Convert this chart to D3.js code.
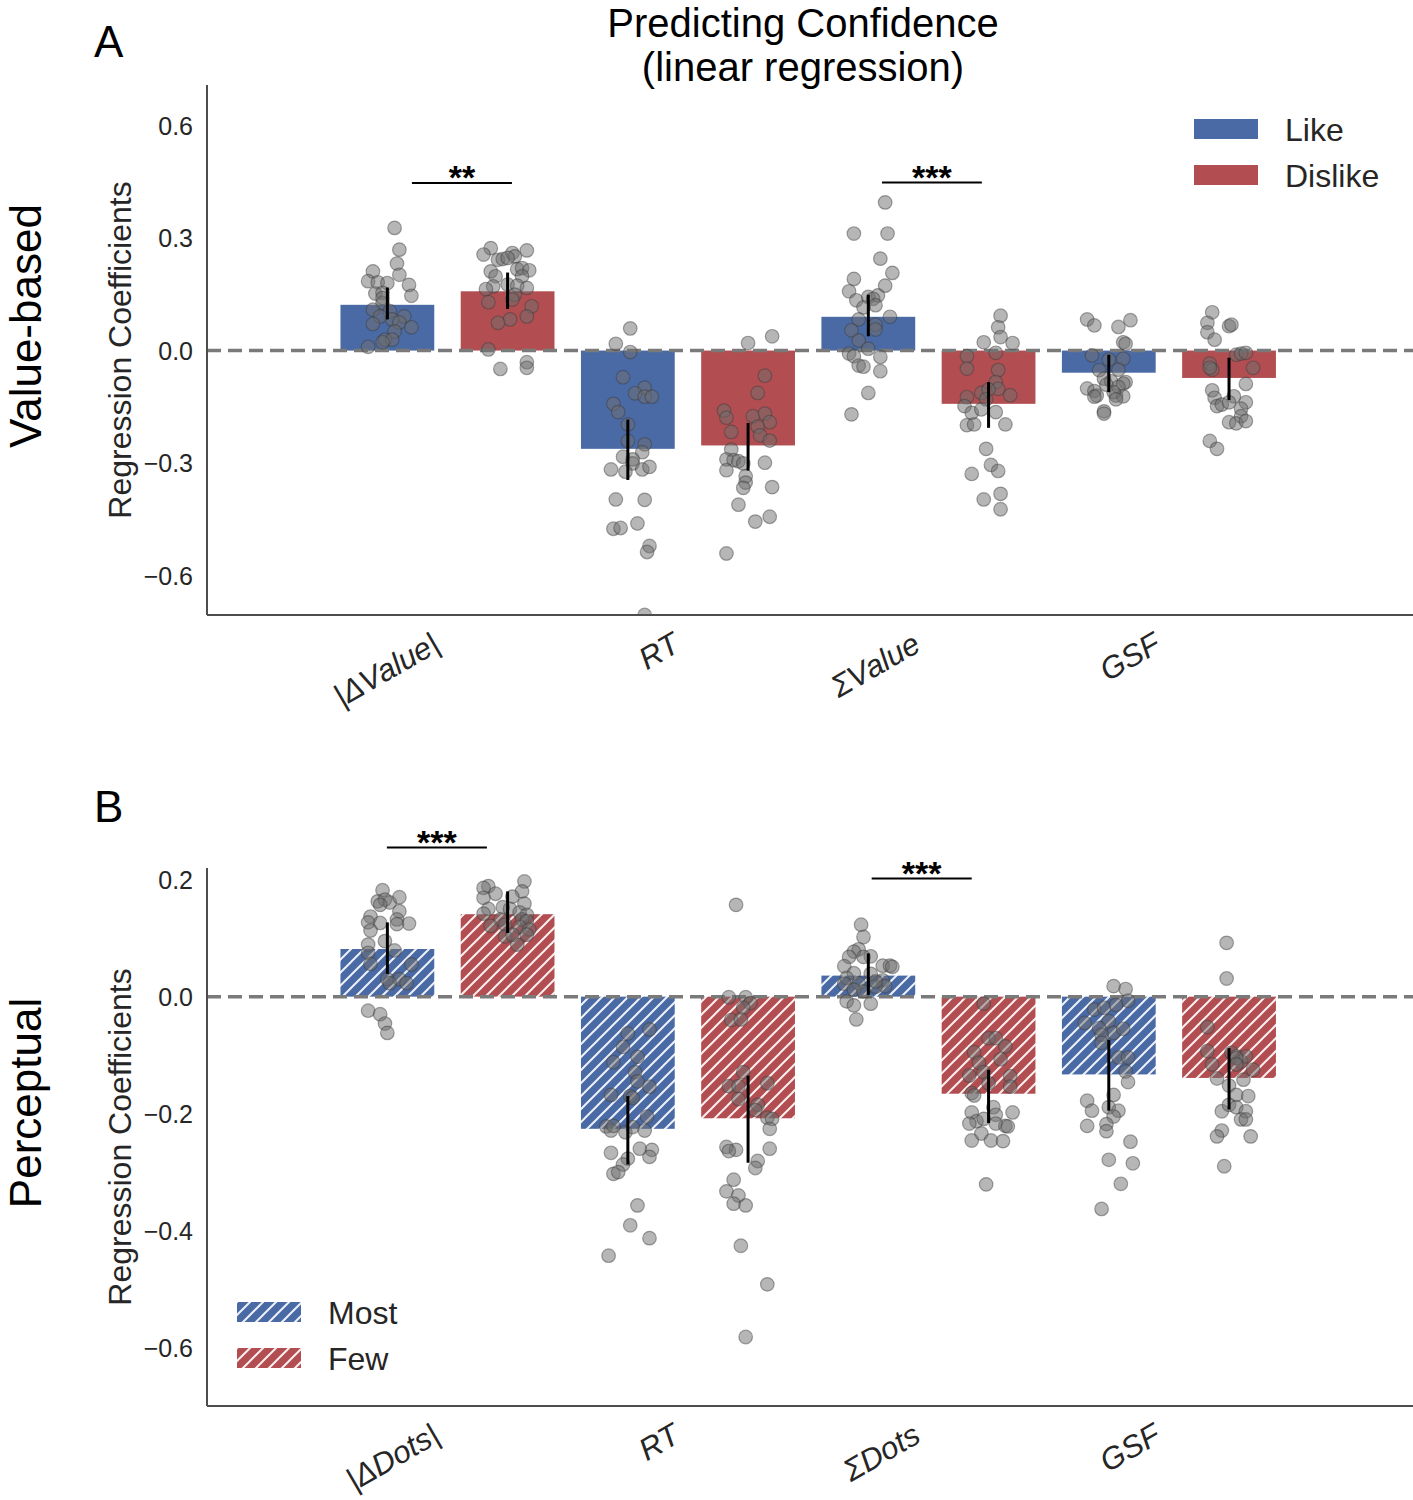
<!DOCTYPE html>
<html>
<head>
<meta charset="utf-8">
<script src="https://cdn.jsdelivr.net/npm/d3@7"></script>
<style>
  body { margin: 0; background: #fff; }
  text { font-family: "Liberation Sans", Arial, sans-serif; }
</style>
</head>
<body>
<script>
// ---------- data ----------
const categoriesA = ["|ΔValue|", "RT", "ΣValue", "GSF"];
const categoriesB = ["|ΔDots|", "RT", "ΣDots", "GSF"];
const seriesA = ["Like", "Dislike"];
const seriesB = ["Most", "Few"];
const yTicksA = [-0.6, -0.3, 0.0, 0.3, 0.6];
const yTicksB = [-0.6, -0.4, -0.2, 0.0, 0.2];

// bar means and error bar ends, one value per category
const likeMean = [0.122, -0.262, 0.090, -0.059];
const likeLo = [0.083, -0.345, 0.038, -0.111];
const likeHi = [0.168, -0.184, 0.149, -0.011];
const dislikeMean = [0.158, -0.253, -0.142, -0.073];
const dislikeLo = [0.111, -0.320, -0.206, -0.132];
const dislikeHi = [0.208, -0.193, -0.084, -0.019];

const mostMean = [0.0815, -0.226, 0.036, -0.133];
const mostLo = [0.039, -0.287, 0.003, -0.195];
const mostHi = [0.127, -0.170, 0.074, -0.074];
const fewMean = [0.141, -0.208, -0.166, -0.139];
const fewLo = [0.109, -0.284, -0.216, -0.193];
const fewHi = [0.180, -0.135, -0.125, -0.088];

// subject coefficients: [value, jitter in category units]
const likeDots = [
  [[.327,.03],[.269,.05],[.232,.04],[.211,-.06],[.202,.05],[.185,-.08],[.182,-.04],[.180,0],[.175,.09],[.152,-.05],[.154,-.02],[.146,.10],[.127,-.02],[.140,-.02],[.109,-.06],[.105,.01],[.091,-.03],[.091,.07],[.083,.02],[.075,.05],[.071,-.06],[.062,.10],[.051,.03],[.029,-.01],[.029,.02],[.022,-.02],[.010,-.08]],
  [[.059,.01],[.018,-.05],[-.004,.01],[-.071,-.02],[-.099,.07],[-.114,.03],[-.123,.07],[-.123,.10],[-.142,-.06],[-.164,-.04],[-.197,0],[-.241,0],[-.250,.07],[-.271,.06],[-.283,-.02],[-.290,.02],[-.301,.02],[-.317,-.07],[-.323,-.01],[-.317,.06],[-.310,.09],[-.397,-.05],[-.398,.07],[-.461,.04],[-.475,-.06],[-.473,-.03],[-.521,.09],[-.537,.08],[-.705,.07]],
  [[.395,.07],[.312,-.06],[.312,.08],[.245,.05],[.207,.10],[.191,-.06],[.173,.07],[.158,-.08],[.134,-.05],[.143,0],[.147,.04],[.138,.02],[.121,.03],[.115,-.02],[.090,.09],[.083,-.04],[.069,.03],[.054,-.07],[.056,.03],[.027,-.04],[.005,0],[-.008,-.08],[-.015,-.06],[-.017,.05],[-.040,-.04],[-.043,-.02],[-.055,.05],[-.113,0],[-.170,-.07]],
  [[.083,-.09],[.067,-.06],[.081,.09],[.063,.04],[.022,.06],[.018,.07],[-.013,-.07],[-.024,0],[-.022,.06],[-.052,-.04],[-.051,.04],[-.075,-.02],[-.082,.01],[-.084,.07],[-.088,.06],[-.091,-.01],[-.097,.04],[-.101,-.09],[-.108,-.06],[-.120,-.05],[-.120,.03],[-.122,.06],[-.111,.02],[-.123,-.06],[-.130,.03],[-.162,-.02],[-.168,-.02]]
];
const dislikeDots = [
  [[.273,-.07],[.256,-.10],[.242,-.04],[.244,-.02],[.260,.02],[.267,.08],[.251,.03],[.247,0],[.211,-.07],[.217,.04],[.220,.06],[.214,.09],[.198,-.05],[.198,.06],[.171,-.06],[.176,0],[.164,-.09],[.173,.04],[.167,.08],[.149,.03],[.136,.02],[.129,-.08],[.118,.10],[.091,.08],[.083,.01],[.074,-.04],[.003,-.08],[-.049,-.03],[-.031,.08],[-.046,.08]],
  [[.038,.10],[.020,0],[-.067,.07],[-.113,.04],[-.160,-.10],[-.179,-.09],[-.175,.02],[-.168,.07],[-.191,.09],[-.217,-.07],[-.203,.04],[-.226,.05],[-.240,.09],[-.264,-.07],[-.290,-.09],[-.292,-.06],[-.295,-.04],[-.301,-.02],[-.299,.07],[-.319,-.09],[-.335,-.01],[-.352,-.01],[-.366,-.02],[-.364,.10],[-.411,-.04],[-.456,.03],[-.443,.09],[-.541,-.09]],
  [[.093,.05],[.062,.04],[.036,.05],[.022,-.02],[.020,.10],[-.015,-.09],[-.006,.03],[-.048,-.09],[-.052,.04],[-.084,.03],[-.102,.04],[-.113,-.03],[-.104,0],[-.119,.09],[-.124,-.09],[-.130,-.01],[-.148,-.10],[-.166,-.07],[-.157,-.03],[-.164,.03],[-.199,-.09],[-.197,-.06],[-.197,.07],[-.262,-.01],[-.305,.01],[-.321,.04],[-.329,-.07],[-.397,-.02],[-.382,.05],[-.423,.05]],
  [[.102,-.07],[.074,-.09],[.049,-.09],[.029,-.06],[.065,0],[.069,.01],[-.011,.03],[-.008,.05],[-.006,.07],[-.035,-.08],[-.051,-.07],[-.046,-.08],[-.046,.10],[-.089,.07],[-.106,-.07],[-.126,-.06],[-.148,-.05],[-.144,-.03],[-.122,.02],[-.138,0],[-.138,.07],[-.155,.05],[-.175,.05],[-.191,0],[-.194,.03],[-.188,.07],[-.241,-.08],[-.262,-.05]]
];
const mostDots = [
  [[.182,-.02],[.163,-.04],[.166,-.01],[.161,.01],[.170,.05],[.157,-.03],[.146,.05],[.137,-.07],[.127,-.08],[.126,-.03],[.132,.04],[.125,.09],[.124,.04],[.113,-.07],[.095,-.01],[.089,-.08],[.075,-.08],[.079,.03],[.056,-.07],[.055,.10],[.030,0],[.030,.05],[.023,.08],[.023,.01],[-.024,-.08],[-.030,-.03],[-.046,-.01],[-.062,0]],
  [[-.063,0],[-.056,.09],[-.086,-.02],[-.112,-.06],[-.103,.04],[-.129,.03],[-.145,.04],[-.154,.09],[-.168,-.07],[-.170,.01],[-.173,.02],[-.205,.08],[-.222,-.09],[-.229,-.07],[-.221,-.06],[-.232,-.01],[-.223,.02],[-.229,.07],[-.267,-.07],[-.260,.05],[-.262,.10],[-.274,.09],[-.277,0],[-.287,-.02],[-.303,-.06],[-.300,-.04],[-.357,.04],[-.391,.01],[-.413,.09],[-.443,-.08]],
  [[.123,-.03],[.102,-.02],[.081,-.04],[.077,-.06],[.069,.01],[.068,-.08],[.068,-.02],[.052,-.10],[.053,.06],[.053,.09],[.051,.10],[.040,-.06],[.039,.01],[.032,-.09],[.022,-.10],[.023,-.04],[.028,.06],[.018,.07],[.017,.03],[.012,-.06],[.009,-.02],[-.008,-.09],[-.012,.01],[-.015,-.06],[-.039,-.05],[.026,.03]],
  [[.018,.02],[.013,.07],[-.007,.08],[-.022,-.06],[-.019,-.02],[-.014,.03],[-.045,-.10],[-.042,0],[-.054,-.04],[-.062,.02],[-.055,.06],[-.065,-.03],[-.079,-.03],[-.104,.04],[-.104,.08],[-.128,.07],[-.146,.08],[-.168,.02],[-.178,-.09],[-.195,-.07],[-.189,0],[-.195,.04],[-.205,.02],[-.221,-.09],[-.218,-.01],[-.230,-.01],[-.248,.09],[-.279,0],[-.285,.10],[-.320,.05],[-.363,-.03]]
];
const fewDots = [
  [[.189,-.08],[.186,-.10],[.197,.07],[.176,-.05],[.180,.06],[.169,-.10],[.171,.02],[.159,.07],[.153,-.02],[.150,-.08],[.150,.01],[.142,-.10],[.144,.05],[.140,.08],[.132,-.03],[.121,-.07],[.123,-.01],[.132,.06],[.129,.08],[.119,.05],[.115,.09],[.103,-.01],[.089,.04],[.106,.02],[.106,.08]],
  [[.157,-.05],[-.001,-.08],[-.001,-.01],[-.011,.01],[-.019,-.02],[-.040,-.07],[-.039,-.03],[-.129,-.02],[-.153,-.08],[-.153,-.04],[-.148,.08],[-.175,-.04],[-.185,.04],[-.194,.03],[-.207,.08],[-.209,.10],[-.226,.09],[-.257,-.09],[-.262,-.05],[-.264,-.08],[-.260,.09],[-.281,.04],[-.293,.03],[-.313,-.06],[-.333,-.09],[-.340,-.04],[-.354,-.06],[-.357,-.01],[-.426,-.03],[-.492,.08],[-.582,-.01]],
  [[-.012,-.02],[-.071,0],[-.071,.03],[-.085,.07],[-.095,-.06],[-.113,-.04],[-.107,.05],[-.129,-.02],[-.135,-.08],[-.136,.09],[-.148,0],[-.154,.09],[-.165,-.07],[-.169,-.06],[-.189,.02],[-.198,-.07],[-.198,.10],[-.202,.03],[-.213,-.05],[-.209,-.02],[-.217,-.08],[-.217,.03],[-.221,.07],[-.222,.08],[-.234,-.03],[-.246,-.07],[-.246,.01],[-.247,.06],[-.321,-.01]],
  [[.092,-.01],[.031,-.01],[-.052,-.09],[-.093,-.09],[-.096,.01],[-.102,.03],[-.111,.05],[-.102,.07],[-.116,-.07],[-.140,-.05],[-.142,.06],[-.125,.10],[-.152,0],[-.168,.03],[-.170,.08],[-.196,-.03],[-.185,0],[-.189,.03],[-.196,.07],[-.210,.05],[-.210,.07],[-.229,-.03],[-.239,-.05],[-.239,.09],[-.290,-.02],[-.105,.03],[-.116,.03]]
];

// significance brackets: category, start/end offset, height, stars
const sigA = [
  {cat: 0, x1: -0.148, x2: 0.268, y: 0.447, label: "**"},
  {cat: 2, x1: -0.193, x2: 0.222, y: 0.448, label: "***"}
];
const sigB = [
  {cat: 0, x1: -0.252, x2: 0.164, y: 0.255, label: "***"},
  {cat: 2, x1: -0.236, x2: 0.180, y: 0.202, label: "***"}
];

// ---------- drawing ----------
const W = 1413, H = 1500;
const blue = "#4a6aa6", red = "#b24e51";
const svg = d3.select("body").append("svg")
  .attr("width", W)
  .attr("height", H);

const defs = svg.append("defs");
//hatch patterns for the perceptual panel
[["hatchBlue", blue], ["hatchRed", red]].forEach(([id, col]) => {
  let p = defs.append("pattern")
    .attr("id", id)
    .attr("patternUnits", "userSpaceOnUse")
    .attr("width", 13)
    .attr("height", 13);
  p.append("rect").attr("width", 13).attr("height", 13).attr("fill", col);
  p.append("path")
    .attr("d", "M-2,15 L15,-2 M-4,4 L4,-4 M9,17 L17,9")
    .attr("stroke", "#fff")
    .attr("stroke-opacity", 0.9)
    .attr("stroke-width", 2);
});

const x = d3.scaleLinear().domain([-1, 4.015]).range([207, 1413]);
const barOffset = 0.25, barWidth = 0.39;

function drawPanel(cfg) {
  let y = d3.scaleLinear().domain(cfg.domain).range([cfg.bottom, cfg.top]);
  let g = svg.append("g");

  defs.append("clipPath").attr("id", cfg.id + "clip")
    .append("rect")
    .attr("x", x(-1)).attr("y", cfg.top)
    .attr("width", W - x(-1)).attr("height", cfg.bottom - cfg.top);

  //tick labels (no tick marks)
  g.selectAll(".tick")
    .data(cfg.ticks)
    .enter().append("text")
    .attr("x", x(-1) - 14)
    .attr("y", d => y(d))
    .attr("dy", "0.36em")
    .attr("text-anchor", "end")
    .attr("font-size", 25)
    .attr("fill", "#262626")
    .text(d => d3.format(".1f")(d).replace("-", "\u2212"));

  //bars
  let bars = [];
  cfg.series.forEach((s, si) => {
    cfg.means[si].forEach((m, ci) => {
      bars.push({s: si, c: ci, v: m, lo: cfg.lo[si][ci], hi: cfg.hi[si][ci]});
    });
  });
  let center = d => d.c + (d.s == 0 ? -barOffset : barOffset);

  g.selectAll(".bar")
    .data(bars)
    .enter().append("rect")
    .attr("x", d => x(center(d) - barWidth / 2))
    .attr("width", d => x(barWidth) - x(0))
    .attr("y", d => y(Math.max(0, d.v)))
    .attr("height", d => Math.abs(y(d.v) - y(0)))
    .attr("fill", d => cfg.fills[d.s]);

  //zero line
  g.append("line")
    .attr("x1", x(-1)).attr("x2", W)
    .attr("y1", y(0)).attr("y2", y(0))
    .attr("stroke", "#7a7a7a")
    .attr("stroke-width", 3.5)
    .attr("stroke-dasharray", "14,7");

  //subject dots
  let dots = [];
  cfg.dots.forEach((series, si) => {
    series.forEach((list, ci) => {
      list.forEach(p => dots.push({s: si, c: ci, v: p[0], j: p[1]}));
    });
  });
  g.append("g")
    .attr("clip-path", "url(#" + cfg.id + "clip)")
    .selectAll("circle")
    .data(dots)
    .enter().append("circle")
    .attr("cx", d => x(center(d) + d.j))
    .attr("cy", d => y(d.v))
    .attr("r", 6.8)
    .attr("fill", "#6e6e6e")
    .attr("fill-opacity", 0.5)
    .attr("stroke", "#3c3c3c")
    .attr("stroke-opacity", 0.45)
    .attr("stroke-width", 1.2);

  //error bars
  g.selectAll(".err")
    .data(bars)
    .enter().append("line")
    .attr("x1", d => x(center(d)))
    .attr("x2", d => x(center(d)))
    .attr("y1", d => y(d.lo))
    .attr("y2", d => y(d.hi))
    .attr("stroke", "#000")
    .attr("stroke-width", 3);

  //spines
  g.append("line")
    .attr("x1", x(-1)).attr("x2", x(-1))
    .attr("y1", cfg.top).attr("y2", cfg.bottom)
    .attr("stroke", "#4d4d4d").attr("stroke-width", 2);
  g.append("line")
    .attr("x1", x(-1)).attr("x2", W)
    .attr("y1", cfg.bottom).attr("y2", cfg.bottom)
    .attr("stroke", "#4d4d4d").attr("stroke-width", 2);

  //category labels
  g.selectAll(".cat")
    .data(cfg.categories)
    .enter().append("text")
    .attr("transform", (d, i) => "translate(" + (x(i) - 6) + "," + (cfg.bottom + 35) + ") rotate(-30)")
    .attr("text-anchor", "end")
    .attr("font-size", 31)
    .attr("font-style", "italic")
    .attr("fill", "#262626")
    .text(d => d);

  //significance
  cfg.sig.forEach(s => {
    g.append("line")
      .attr("x1", x(s.cat + s.x1)).attr("x2", x(s.cat + s.x2))
      .attr("y1", y(s.y)).attr("y2", y(s.y))
      .attr("stroke", "#000").attr("stroke-width", 2);
    g.append("text")
      .attr("x", x(s.cat + (s.x1 + s.x2) / 2))
      .attr("y", y(s.y) + 6)
      .attr("text-anchor", "middle")
      .attr("font-size", 34)
      .attr("font-weight", "bold")
      .text(s.label);
  });

  //y label
  g.append("text")
    .attr("transform", "translate(131," + (cfg.top + cfg.bottom) / 2 + ") rotate(-90)")
    .attr("text-anchor", "middle")
    .attr("font-size", 32)
    .attr("fill", "#262626")
    .text("Regression Coefficients");

  //row label and panel letter
  g.append("text")
    .attr("transform", "translate(41," + cfg.rowY + ") rotate(-90)")
    .attr("text-anchor", "middle")
    .attr("font-size", 44)
    .text(cfg.row);
  g.append("text")
    .attr("x", 94).attr("y", cfg.letterY)
    .attr("font-size", 44)
    .text(cfg.letter);

  //legend
  let leg = g.selectAll(".leg")
    .data(cfg.series)
    .enter().append("g")
    .attr("transform", (d, i) => "translate(" + cfg.legX + "," + (cfg.legY + i * 46) + ")");
  leg.append("rect")
    .attr("width", 64).attr("height", 20)
    .attr("fill", (d, i) => cfg.fills[i]);
  leg.append("text")
    .attr("x", 91).attr("y", 10)
    .attr("dy", "0.36em")
    .attr("font-size", 32)
    .attr("fill", "#262626")
    .text(d => d);
}

drawPanel({
  id: "A", top: 85, bottom: 615, domain: [-0.705, 0.708],
  ticks: yTicksA, categories: categoriesA, series: seriesA,
  means: [likeMean, dislikeMean], lo: [likeLo, dislikeLo], hi: [likeHi, dislikeHi],
  dots: [likeDots, dislikeDots], sig: sigA, fills: [blue, red],
  row: "Value-based", rowY: 326, letter: "A", letterY: 57,
  legX: 1194, legY: 119
});

drawPanel({
  id: "B", top: 868, bottom: 1406, domain: [-0.7, 0.22],
  ticks: yTicksB, categories: categoriesB, series: seriesB,
  means: [mostMean, fewMean], lo: [mostLo, fewLo], hi: [mostHi, fewHi],
  dots: [mostDots, fewDots], sig: sigB, fills: ["url(#hatchBlue)", "url(#hatchRed)"],
  row: "Perceptual", rowY: 1103, letter: "B", letterY: 822,
  legX: 237, legY: 1302
});

//title
svg.append("text")
  .attr("x", 803).attr("y", 37)
  .attr("text-anchor", "middle")
  .attr("font-size", 40)
  .text("Predicting Confidence");
svg.append("text")
  .attr("x", 803).attr("y", 81)
  .attr("text-anchor", "middle")
  .attr("font-size", 40)
  .text("(linear regression)");
</script>
</body>
</html>
